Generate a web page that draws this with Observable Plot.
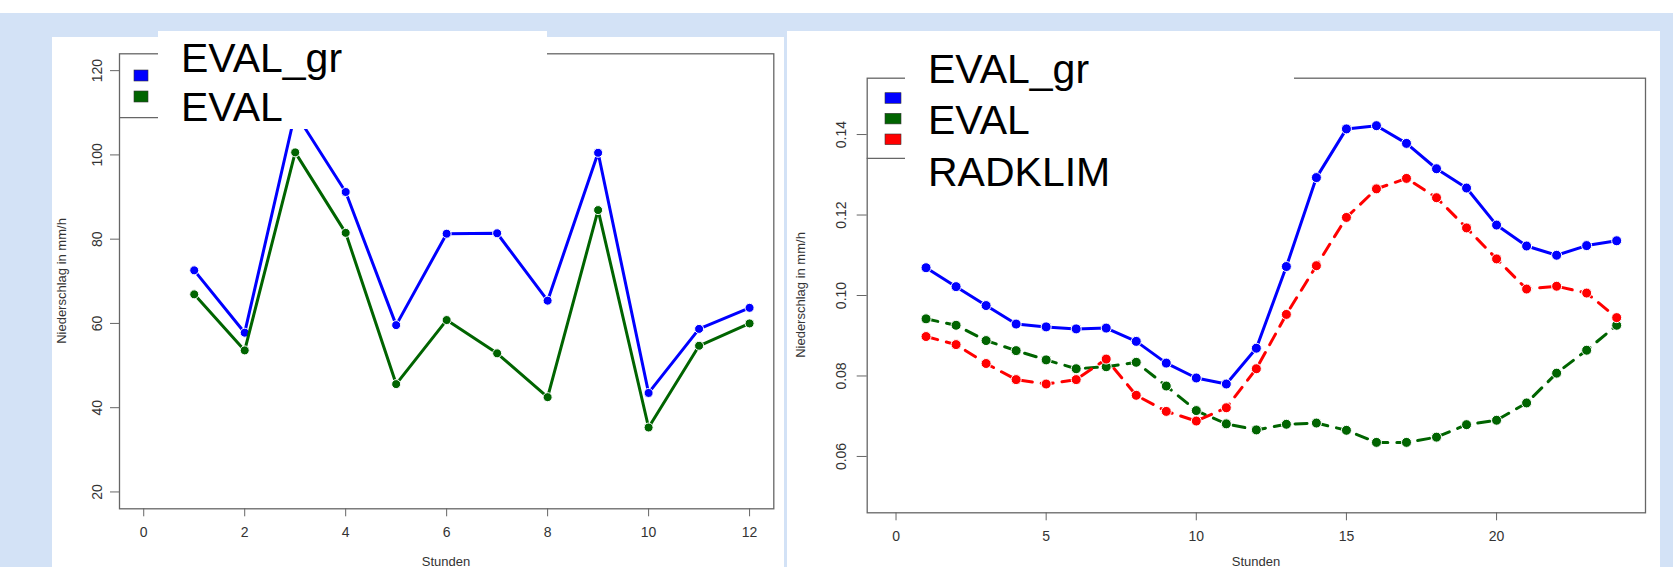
<!DOCTYPE html>
<html>
<head>
<meta charset="utf-8">
<script src="https://cdn.jsdelivr.net/npm/d3@7"></script>
<script src="https://cdn.jsdelivr.net/npm/@observablehq/plot@0.6"></script>
<style>
html,body{margin:0;padding:0;width:1673px;height:567px;overflow:hidden;background:#d3e2f6;font-family:"Liberation Sans",Arial,sans-serif;}
.abs{position:absolute;}
#overlay{position:absolute;left:0;top:0;z-index:5;}
</style>
</head>
<body>
<div class="abs" style="left:0;top:0;width:1673px;height:13px;background:#fff"></div>
<div class="abs" id="pL" style="left:52px;top:37px;width:732px;height:530px;background:#fff"></div>
<div class="abs" id="pR" style="left:787px;top:31px;width:873px;height:536px;background:#fff"></div>
<svg id="overlay" width="1673" height="567" font-family="Liberation Sans, Arial, sans-serif">
  <!-- left legend -->
  <rect x="158" y="31" width="389" height="98" fill="#fff"/>
  <line x1="119" y1="117.7" x2="158" y2="117.7" stroke="#666" stroke-width="1.3"/>
  <rect x="134" y="70" width="14" height="11" fill="#0000ff" stroke="#333" stroke-width="0.6"/>
  <rect x="134" y="91" width="14" height="11" fill="#006400" stroke="#333" stroke-width="0.6"/>
  <text x="181" y="71.7" font-size="41" fill="#000">EVAL_gr</text>
  <text x="181" y="120.7" font-size="41" fill="#000">EVAL</text>
  <!-- right legend -->
  <rect x="905" y="31" width="389" height="170" fill="#fff"/>
  <line x1="866.7" y1="158.3" x2="905" y2="158.3" stroke="#666" stroke-width="1.3"/>
  <rect x="885" y="92.7" width="16" height="10.6" fill="#0000ff" stroke="#333" stroke-width="0.6"/>
  <rect x="885" y="113.3" width="16" height="10.6" fill="#006400" stroke="#333" stroke-width="0.6"/>
  <rect x="885" y="134" width="16" height="10.6" fill="#ff0000" stroke="#333" stroke-width="0.6"/>
  <text x="928" y="83.3" font-size="41" fill="#000">EVAL_gr</text>
  <text x="928" y="134" font-size="41" fill="#000">EVAL</text>
  <text x="928" y="186" font-size="41" fill="#000">RADKLIM</text>
  <!-- axis titles -->
  <text transform="translate(61,281) rotate(-90)" text-anchor="middle" dominant-baseline="central" font-size="13" fill="#333">Niederschlag in mm/h</text>
  <text transform="translate(800,295) rotate(-90)" text-anchor="middle" dominant-baseline="central" font-size="13" fill="#333">Niederschlag in mm/h</text>
  <text x="446" y="565.5" text-anchor="middle" font-size="13" fill="#333">Stunden</text>
  <text x="1256" y="565.5" text-anchor="middle" font-size="13" fill="#333">Stunden</text>
</svg>
<script>
// ---- data ----
const hoursLeft = [1,2,3,4,5,6,7,8,9,10,11,12];
const evalGrLeft = [72.6,57.8,110,91.2,59.6,81.3,81.4,65.4,100.5,43.5,58.7,63.7];
const evalLeft   = [66.9,53.6,100.6,81.5,45.6,60.8,52.9,42.5,86.9,35.3,54.7,60.0];
const xTicksLeft = [0,2,4,6,8,10,12];
const yTicksLeft = [20,40,60,80,100,120];
const xLimLeft = [0,12];
const yLimLeft = [20,120];

const hoursRight = [1,2,3,4,5,6,7,8,9,10,11,12,13,14,15,16,17,18,19,20,21,22,23,24];
const evalGrRight = [0.1069,0.1022,0.0975,0.0929,0.0922,0.0917,0.0919,0.0886,0.0832,0.0795,0.0780,0.0869,
                     0.1072,0.1293,0.1414,0.1422,0.1378,0.1315,0.1267,0.1175,0.1123,0.1100,0.1124,0.1136];
const evalRight   = [0.0942,0.0926,0.0888,0.0863,0.0840,0.0818,0.0823,0.0834,0.0775,0.0714,0.0681,0.0666,
                     0.0680,0.0683,0.0665,0.0635,0.0635,0.0648,0.0679,0.0690,0.0733,0.0807,0.0864,0.0926];
const radklimRight= [0.0898,0.0878,0.0831,0.0791,0.0780,0.0791,0.0842,0.0752,0.0712,0.0688,0.0721,0.0818,
                     0.0953,0.1074,0.1194,0.1265,0.1291,0.1243,0.1168,0.1091,0.1016,0.1023,0.1006,0.0945];
const xTicksRight = [0,5,10,15,20];
const yTicksRight = [0.06,0.08,0.10,0.12,0.14];
const xLimRight = [0,24];
const yLimRight = [0.05,0.15];

const colBlue = "#0000ff", colGreen = "#006400", colRed = "#ff0000";

// R-style 4% axis extension
const ext = ([a,b]) => [a - (b-a)*0.04, b + (b-a)*0.04];
const rows = (xs, vs) => xs.map((h,i) => ({h, v: vs[i]}));

const tickFont = {fontFamily: "'Liberation Sans Narrow','Liberation Sans',Arial,sans-serif", fontSize: "14px"};

function series(data, color, r, dash) {
  return [
    Plot.line(data, {x: "h", y: "v", stroke: color, strokeWidth: 3, strokeDasharray: dash}),
    Plot.dot(data, {x: "h", y: "v", r, fill: color, stroke: "#fff", strokeWidth: 1})
  ];
}

const left = Plot.plot({
  width: 732, height: 530,
  marginLeft: 67, marginRight: 10.7, marginTop: 16.3, marginBottom: 58.7,
  style: {background: "transparent", color: "#333", overflow: "visible", ...tickFont},
  x: {domain: ext(xLimLeft)},
  y: {domain: ext(yLimLeft)},
  marks: [
    Plot.frame({stroke: "#666", strokeWidth: 1.3}),
    Plot.axisX({ticks: xTicksLeft, tickSize: 8, tickPadding: 10, tickFormat: d => String(d), label: null, stroke: "#666"}),
    Plot.axisY({ticks: yTicksLeft, tickSize: 9, tickPadding: 9, tickRotate: -90, tickFormat: d => String(d), label: null, stroke: "#666"}),
    ...series(rows(hoursLeft, evalGrLeft), colBlue, 4.5),
    ...series(rows(hoursLeft, evalLeft), colGreen, 4.5)
  ]
});
document.getElementById("pL").appendChild(left);

const right = Plot.plot({
  width: 873, height: 536,
  marginLeft: 79.7, marginRight: 15, marginTop: 46.7, marginBottom: 54.7,
  style: {background: "transparent", color: "#333", overflow: "visible", ...tickFont},
  x: {domain: ext(xLimRight)},
  y: {domain: ext(yLimRight)},
  marks: [
    Plot.frame({stroke: "#666", strokeWidth: 1.3}),
    Plot.axisX({ticks: xTicksRight, tickSize: 8, tickPadding: 10, tickFormat: d => String(d), label: null, stroke: "#666"}),
    Plot.axisY({ticks: yTicksRight, tickSize: 10, tickPadding: 11, tickRotate: -90, tickFormat: d => d.toFixed(2), label: null, stroke: "#666"}),
    ...series(rows(hoursRight, evalGrRight), colBlue, 5),
    ...series(rows(hoursRight, evalRight), colGreen, 5, "12,9"),
    ...series(rows(hoursRight, radklimRight), colRed, 5, "12,9")
  ]
});
document.getElementById("pR").appendChild(right);
</script>
</body>
</html>
